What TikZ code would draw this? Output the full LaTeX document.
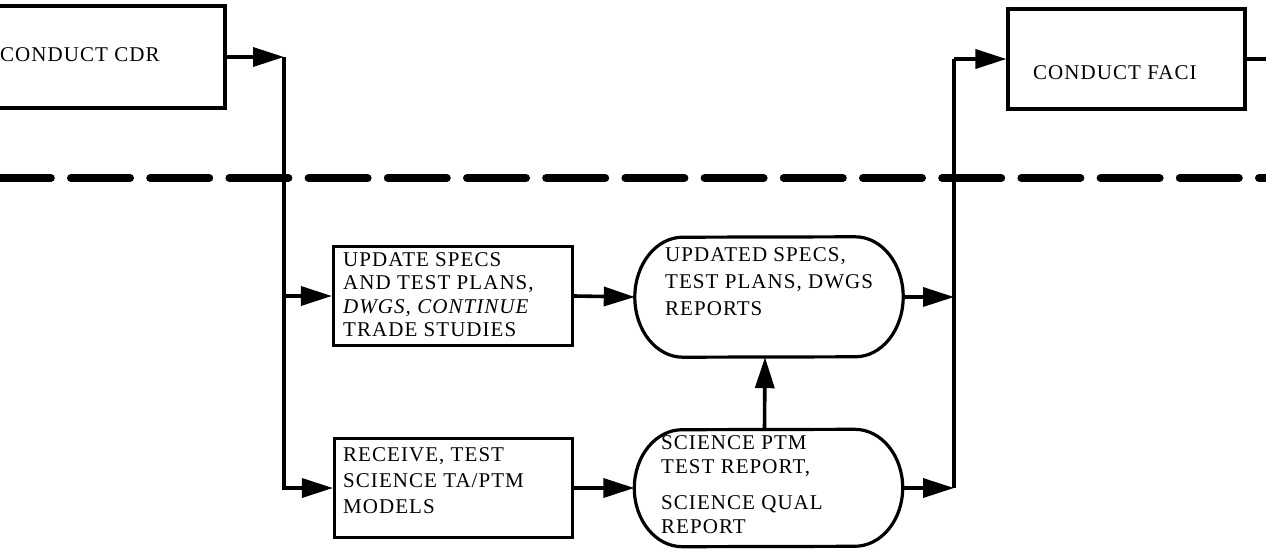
\documentclass[tikz,border=0pt]{standalone}
\usepackage{fontspec}
\setmainfont{Liberation Serif}
\newfontfamily\labfont[LetterSpace=5]{Liberation Serif}
\usetikzlibrary{arrows.meta,calc}

% outline of a capsule-shaped node with elliptic ends
\newcommand\capsuleoutline[2]{%
  \draw[line width=3.2pt] ($(#1.north east)+(-48,0)$)
    arc[start angle=90,end angle=-90,x radius=48pt,y radius=#2pt]
    -- ($(#1.south west)+(48,0)$)
    arc[start angle=270,end angle=90,x radius=48pt,y radius=#2pt]
    -- cycle;}

\begin{document}
\begin{tikzpicture}[x=1pt,y=1pt,
  box/.style={draw, line width=3.2pt, rectangle, inner sep=0pt},
  capsule/.style={minimum width=268pt, minimum height=#1, inner sep=0pt},
  conn/.style={line width=3.6pt},
  arr/.style={conn, -{Triangle[length=31pt,width=19pt]}},
  lab/.style={anchor=north west, inner sep=0pt, align=left,
    font=\labfont\fontsize{21}{23.5}\selectfont},
  rail/.style={line width=8pt, line cap=round, dash pattern=on 59pt off 20.2pt}
]
\useasboundingbox (0,0) rectangle (1266,-554);
\clip (0,0) rectangle (1266,-554);
\fill[white] (0,0) rectangle (1266,-554);

% rectangular steps
\node[box, minimum width=245pt, minimum height=102pt] (cdr) at (102.5,-57) {};
\node[box, minimum width=237pt, minimum height=100pt] (faci) at (1126.5,-59) {};
\node[box, minimum width=239pt, minimum height=99pt] (upd) at (453,-296) {};
\node[box, minimum width=238pt, minimum height=99pt] (rcv) at (453.5,-488) {};

% output documents
\node[capsule=120pt] (rep) at (769,-297) {};
\node[capsule=117pt] (sci) at (768.5,-488) {};
\capsuleoutline{rep}{60}
\capsuleoutline{sci}{58.5}

% labels
\node[lab] (cdrT) at (0,-47) {CONDUCT CDR};
\node[lab] (faciT) at (1033,-65) {CONDUCT FACI};
\node[lab] (updT) at (343,-252) {UPDATE SPECS\\AND TEST PLANS,\\{\itshape DWGS, CONTINUE}\\TRADE STUDIES};
\node[lab, font=\labfont\fontsize{21}{26}\selectfont] (rcvT) at (343,-447) {RECEIVE, TEST\\SCIENCE TA/PTM\\MODELS};
\node[lab, font=\labfont\fontsize{21}{27}\selectfont] (repT) at (665,-247) {UPDATED SPECS,\\TEST PLANS, DWGS\\REPORTS};
\node[lab, font=\labfont\fontsize{21}{24.5}\selectfont] (sciT) at (661,-435) {SCIENCE PTM\\TEST REPORT,\\[11pt]SCIENCE QUAL\\REPORT};

% bus points
\coordinate (lbus) at (284,-57);
\coordinate (rbus) at (954,-59);
\coordinate (exitR) at (1272,-59);

% connectors
\draw[arr] (cdr.east) -- (lbus);
\draw[arr] (lbus) |- (upd.west);
\draw[arr] (lbus) |- (rcv.west);
\draw[arr] (upd.east) -- (rep.west);
\draw[arr] (rcv.east) -- (sci.west);
\draw[arr] ([xshift=-4pt]sci.north) -- ([xshift=-4pt]rep.south);
\draw[arr] (rep.east) -- (rep.east -| rbus);
\draw[arr] (sci.east) -- (sci.east -| rbus);
\draw[conn] (sci.east -| rbus) -- (rbus);
\draw[arr] (rbus) -- (faci.west);
\draw[conn] (faci.east) -- (exitR);

% separator
\draw[rail] (-8.2,-178) -- (1280,-178);
\end{tikzpicture}
\end{document}
